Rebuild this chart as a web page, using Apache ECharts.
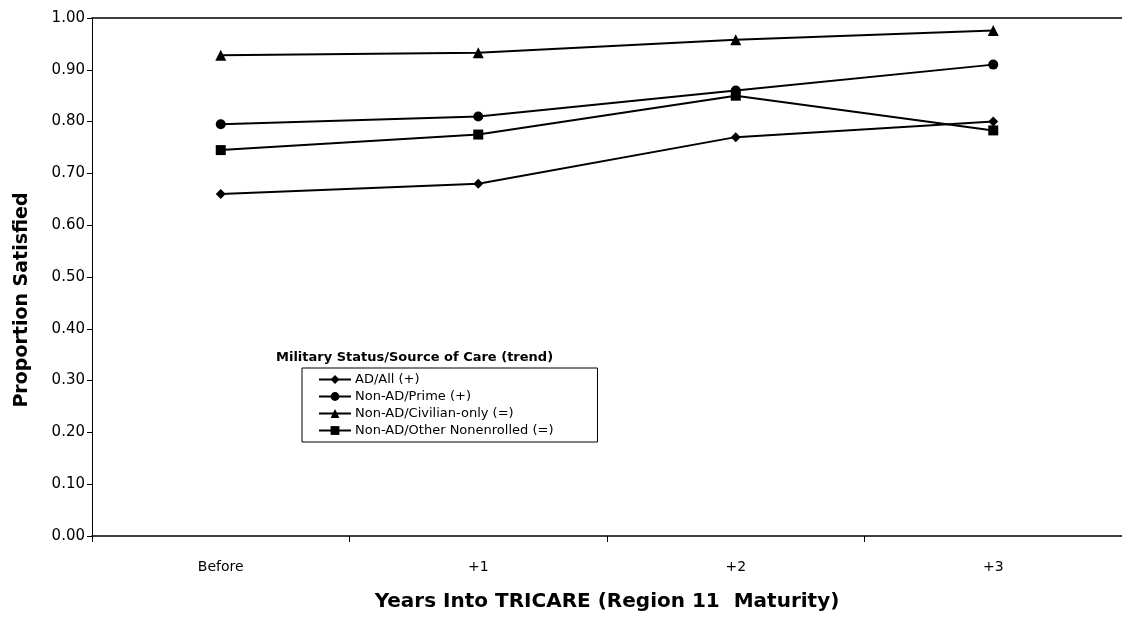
<!DOCTYPE html>
<html>
<head>
<meta charset="utf-8">
<script src="https://cdn.jsdelivr.net/npm/echarts@6/dist/echarts.min.js"></script>
<style>
  html, body { margin: 0; padding: 0; background: #fff; }
  #chart { width: 1122px; height: 621px; }
</style>
</head>
<body>
<div id="chart"></div>
<script>
// values
const categories = ['Before', '+1', '+2', '+3']
const adAll = [0.660, 0.680, 0.770, 0.800]
const nonAdPrime = [0.795, 0.810, 0.860, 0.910]
const nonAdCivilian = [0.928, 0.933, 0.958, 0.976]
const nonAdOther = [0.745, 0.775, 0.850, 0.783]
const seriesNames = ['AD/All (+)', 'Non-AD/Prime (+)', 'Non-AD/Civilian-only (=)', 'Non-AD/Other Nonenrolled (=)']
const seriesSymbols = ['diamond', 'circle', 'triangle', 'rect']
const yTicks = { min: 0, max: 1, interval: 0.1 }

// the scan is a bit stretched sideways, DejaVu's wider glyphs get closer to it
const FONT = '"DejaVu Sans", "Liberation Sans", Arial, sans-serif'
const chart = echarts.init(document.getElementById('chart'))

function lineSeries(name, values, symbol) {
  return {
    name,
    type: 'line',
    data: values,
    symbol,
    symbolSize: symbol === 'triangle' ? 11 : 10,
    lineStyle: { color: '#000', width: 2 },
    itemStyle: { color: '#000' },
    emphasis: { disabled: true },
  }
}

const allValues = [adAll, nonAdPrime, nonAdCivilian, nonAdOther]

chart.setOption({
  animation: false,
  backgroundColor: '#fff',
  textStyle: { fontFamily: FONT, color: '#000' },
  grid: { left: 92, top: 18, width: 1038, height: 518 },
  title: {
    text: 'Military Status/Source of Care (trend)',
    left: 276, top: 351,
    padding: 0,
    textStyle: { fontFamily: FONT, fontSize: 13, fontWeight: 'bold', color: '#000' },
  },
  legend: {
    orient: 'vertical',
    left: 302, top: 368,
    data: seriesNames,
    itemWidth: 32, itemHeight: 11, itemGap: 4,
    padding: [5, 44, 5, 16],
    borderColor: '#000', borderWidth: 1,
    textStyle: { fontFamily: FONT, fontSize: 13, color: '#000', padding: [0, 0, 0, -1] },
    selectedMode: false,
  },
  xAxis: [{
    type: 'category',
    data: categories,
    boundaryGap: true,
    name: 'Years Into TRICARE (Region 11  Maturity)',
    nameLocation: 'middle',
    nameGap: 56,
    nameTextStyle: { fontFamily: FONT, fontSize: 20, fontWeight: 'bold', color: '#000' },
    axisLine: { lineStyle: { color: '#000', width: 1.5 } },
    axisTick: { show: true, length: 6, lineStyle: { color: '#000' } },
    axisLabel: { fontFamily: FONT, fontSize: 14, color: '#000', margin: 24 },
    splitLine: { show: false },
  }, {
    type: 'category',
    data: categories,
    position: 'top',
    axisLine: { show: true, lineStyle: { color: '#000', width: 1.5 } },
    axisTick: { show: false },
    axisLabel: { show: false },
  }],
  yAxis: {
    type: 'value',
    min: yTicks.min, max: yTicks.max, interval: yTicks.interval,
    name: 'Proportion Satisfied',
    nameLocation: 'middle',
    nameGap: 60,
    nameTextStyle: { fontFamily: FONT, fontSize: 19, fontWeight: 'bold', color: '#000', padding: [0, 46, 0, 0] },
    axisLine: { show: true, lineStyle: { color: '#000', width: 1 } },
    axisTick: { show: true, length: 5, lineStyle: { color: '#000' } },
    axisLabel: { fontFamily: FONT, fontSize: 15, color: '#000', margin: 7, formatter: v => v.toFixed(2) },
    splitLine: { show: false },
  },
  series: seriesNames.map((n, i) => lineSeries(n, allValues[i], seriesSymbols[i])),
})
</script>
</body>
</html>
